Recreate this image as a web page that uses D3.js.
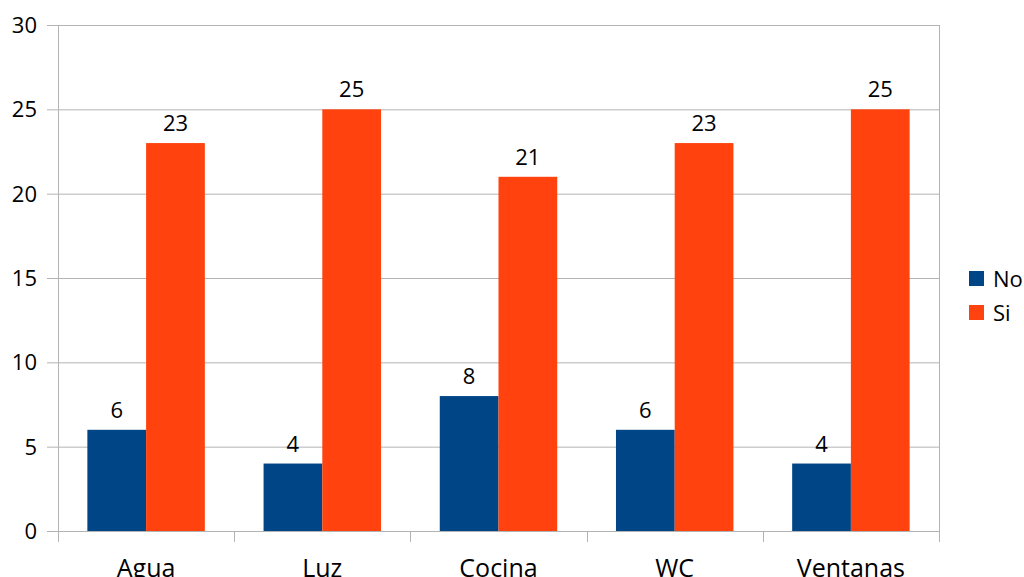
<!DOCTYPE html>
<html>
<head>
<meta charset="utf-8">
<script src="https://cdn.jsdelivr.net/npm/d3@7"></script>
<style>
  body { margin: 0; background: #fff; }
  text { font-family: "Open Sans", sans-serif; fill: #000; }
</style>
</head>
<body>
<div id="chart"></div>
<script>
// data
var categories = ["Agua", "Luz", "Cocina", "WC", "Ventanas"];
var seriesNames = ["No", "Si"];
var noValues = [6, 4, 8, 6, 4];
var siValues = [23, 25, 21, 23, 25];
var yTicks = [0, 5, 10, 15, 20, 25, 30];

var colors = { "No": "#004586", "Si": "#ff420e" };

var width = 1024, height = 577;
var margin = { top: 25, right: 85, bottom: 46, left: 58 };
var plotW = width - margin.left - margin.right,
    plotH = height - margin.top - margin.bottom;

var svg = d3.select("#chart")
  .append("svg")
  .attr("width", width)
  .attr("height", height);

var g = svg.append("g")
  .attr("transform", "translate(" + margin.left + "," + margin.top + ")");

var x = d3.scaleBand()
  .domain(categories)
  .range([0, plotW])
  .paddingInner(0)
  .paddingOuter(0);

// the two bars take the middle two thirds of each category
var xSub = d3.scaleBand()
  .domain(seriesNames)
  .range([x.bandwidth() / 6, x.bandwidth() * 5 / 6]);

var y = d3.scaleLinear()
  .domain([0, 30])
  .range([plotH, 0]);

// gridlines
g.selectAll(".grid")
  .data(yTicks)
  .enter().append("line")
  .attr("x1", -11)
  .attr("x2", plotW)
  .attr("y1", function (d) { return y(d) + 0.5; })
  .attr("y2", function (d) { return y(d) + 0.5; })
  .attr("stroke", "#b3b3b3")
  .attr("stroke-width", 1);

// y tick labels
g.selectAll(".ylab")
  .data(yTicks)
  .enter().append("text")
  .attr("x", -21)
  .attr("y", function (d) { return y(d); })
  .attr("dy", "0.36em")
  .attr("text-anchor", "end")
  .style("font-size", "22px")
  .text(function (d) { return d; });

// left and right frame lines
g.append("line")
  .attr("x1", 0.5).attr("x2", 0.5)
  .attr("y1", 0).attr("y2", plotH + 11)
  .attr("stroke", "#b3b3b3");
g.append("line")
  .attr("x1", plotW + 0.5).attr("x2", plotW + 0.5)
  .attr("y1", 0).attr("y2", plotH + 11)
  .attr("stroke", "#b3b3b3");

// x category ticks
g.selectAll(".xtick")
  .data(categories.slice(1))
  .enter().append("line")
  .attr("x1", function (d) { return Math.round(x(d)) + 0.5; })
  .attr("x2", function (d) { return Math.round(x(d)) + 0.5; })
  .attr("y1", plotH)
  .attr("y2", plotH + 11)
  .attr("stroke", "#b3b3b3");

// bars
var rows = categories.map(function (c, i) {
  return { cat: c, values: [{ key: "No", v: noValues[i] }, { key: "Si", v: siValues[i] }] };
});

var groups = g.selectAll(".cat")
  .data(rows)
  .enter().append("g")
  .attr("transform", function (d) { return "translate(" + x(d.cat) + ",0)"; });

groups.selectAll("rect")
  .data(function (d) { return d.values; })
  .enter().append("rect")
  .attr("x", function (d) { return xSub(d.key); })
  .attr("y", function (d) { return y(d.v); })
  .attr("width", xSub.bandwidth())
  .attr("height", function (d) { return plotH - y(d.v); })
  .attr("fill", function (d) { return colors[d.key]; });

groups.selectAll(".vlab")
  .data(function (d) { return d.values; })
  .enter().append("text")
  .attr("x", function (d) { return xSub(d.key) + xSub.bandwidth() / 2; })
  .attr("y", function (d) { return y(d.v) - 12; })
  .attr("text-anchor", "middle")
  .style("font-size", "22px")
  .text(function (d) { return d.v; });

// x labels (cut by the bottom edge, as in the original)
g.selectAll(".xlab")
  .data(categories)
  .enter().append("text")
  .attr("x", function (d) { return x(d) + x.bandwidth() / 2; })
  .attr("y", plotH + 46)
  .attr("text-anchor", "middle")
  .style("font-size", "25px")
  .text(function (d) { return d; });

// legend
var legend = svg.selectAll(".legend")
  .data(seriesNames)
  .enter().append("g")
  .attr("transform", function (d, i) { return "translate(969," + (271 + i * 34) + ")"; });

legend.append("rect")
  .attr("width", 15)
  .attr("height", 15)
  .attr("fill", function (d) { return colors[d]; });

legend.append("text")
  .attr("x", 24)
  .attr("y", 8)
  .attr("dy", "0.36em")
  .style("font-size", "22px")
  .text(function (d) { return d; });
</script>
</body>
</html>
